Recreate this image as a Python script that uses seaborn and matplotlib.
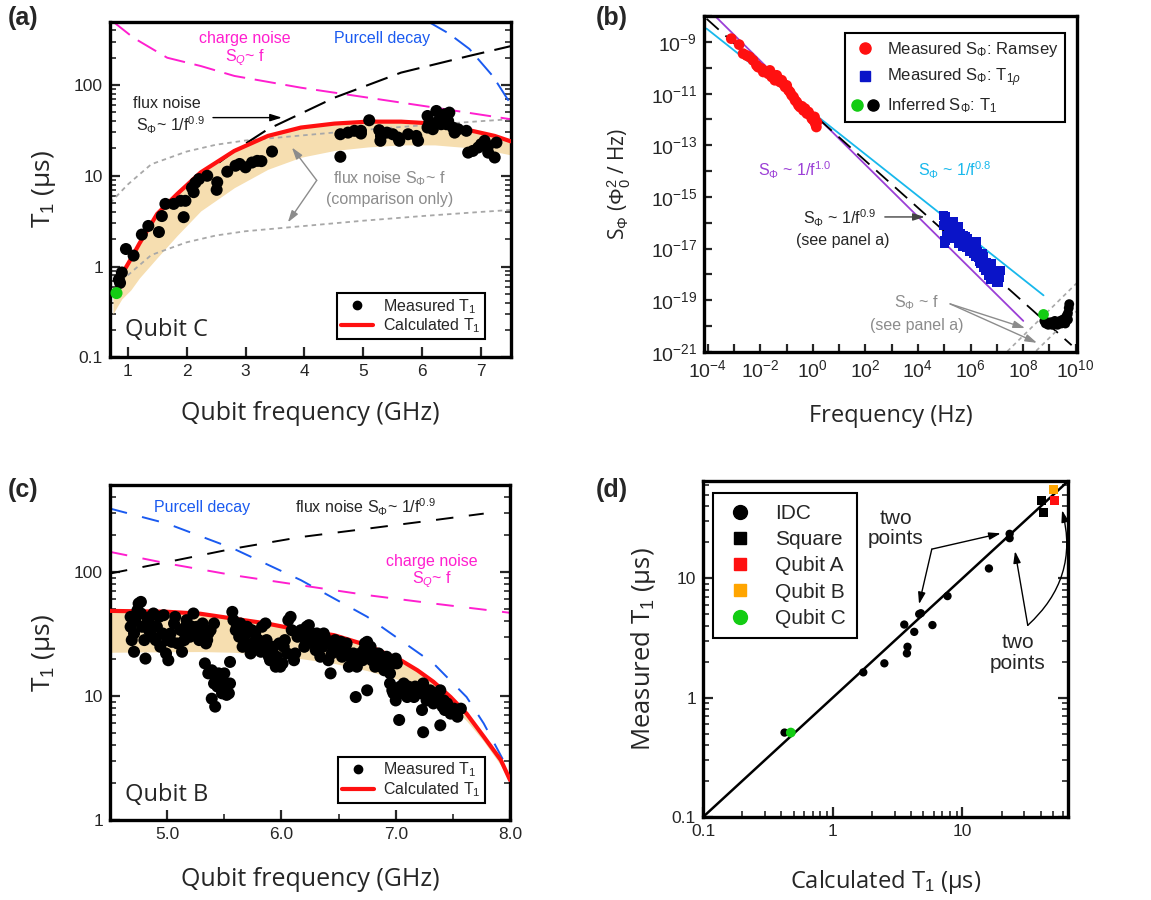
import numpy as np
import matplotlib
matplotlib.use("Agg")
import matplotlib.pyplot as plt
import seaborn as sns
from matplotlib.lines import Line2D
from matplotlib.legend_handler import HandlerTuple
from matplotlib.ticker import FixedLocator, NullFormatter, NullLocator, FuncFormatter, LogLocator

# ---------------- panel (a): qubit C ----------------
a_freq = [0.85, 0.87, 0.90, 0.97, 1.10, 1.24, 1.35, 1.53, 1.58, 1.64, 1.78, 1.90, 1.98, 1.95,
          2.09, 2.12, 2.15, 2.21, 2.35, 2.52, 2.51, 2.69, 2.83, 2.90, 3.00, 3.11, 3.20, 3.27, 3.45,
          4.61, 4.61, 4.74, 4.85, 4.96, 4.96, 5.10, 5.27, 5.30, 5.29, 5.40, 5.50, 5.59, 5.61,
          5.76, 5.90, 5.93, 6.09, 6.09, 6.12, 6.18, 6.24, 6.27, 6.32, 6.38, 6.41, 6.44, 6.46,
          6.52, 6.55, 6.61, 6.75, 6.78, 6.86, 6.95, 7.00, 7.06, 7.12, 7.12, 7.23, 7.26]
a_t1 = [0.72, 0.66, 0.86, 1.56, 1.32, 2.25, 2.8, 2.4, 3.6, 4.9, 4.9, 5.3, 5.3, 3.5,
        7.4, 6.6, 8.4, 9.2, 10.0, 8.5, 7.0, 11.1, 12.9, 13.5, 12.4, 14.0, 14.6, 14.5, 18.5,
        28.7, 16.2, 29.9, 31.3, 31.3, 29.2, 40.9, 31.8, 27.5, 24.3, 29.9, 28.7, 26.4, 24.3,
        28.7, 27.5, 24.3, 45.6, 34.0, 38.5, 32.6, 51.8, 40.2, 37.0, 47.6, 37.0, 40.2, 49.7,
        34.0, 29.9, 32.6, 31.3, 18.0, 18.8, 20.5, 22.3, 24.3, 21.4, 18.0, 15.9, 23.2]
a_green_freq = [0.81]
a_green_t1 = [0.51]

a_calc_freq = [0.82, 0.90, 1.05, 1.20, 1.50, 1.84, 2.24, 2.81, 3.38, 3.94, 4.51, 5.08,
               5.64, 6.21, 6.78, 7.23, 7.50]
a_calc_t1 = [0.62, 0.82, 1.2, 1.8, 3.8, 6.3, 10.9, 18.8, 27.5, 34.0, 37.6, 39.5,
             39.5, 37.6, 32.0, 27.5, 24.0]

a_band_freq = [0.75, 0.82, 0.90, 1.05, 1.20, 1.50, 1.84, 2.24, 2.81, 3.38, 3.94, 4.51,
               5.08, 5.64, 6.21, 6.78, 7.23, 7.50]
a_band_low = [0.30, 0.36, 0.44, 0.55, 0.75, 1.25, 2.2, 4.1, 7.4, 11.8, 16.0, 19.0,
              20.8, 21.9, 21.9, 20.4, 18.5, 17.0]
a_band_high = [0.50, 0.62, 0.82, 1.2, 1.8, 3.8, 6.3, 10.9, 18.8, 27.5, 34.0, 37.6,
               39.5, 39.5, 37.6, 32.0, 27.5, 24.0]

a_fluxf_freq = [0.70, 1.00, 1.40, 2.00, 2.50, 3.00, 4.00, 5.00, 6.00, 7.00, 7.50]
a_fluxf_hi = [5.0, 8.0, 13.4, 18.5, 22.0, 24.5, 28.0, 32.0, 36.0, 40.0, 42.0]
a_fluxf_lo = [0.50, 0.80, 1.34, 1.85, 2.2, 2.45, 2.8, 3.2, 3.6, 4.0, 4.2]

a_charge_freq = [0.75, 1.10, 1.67, 2.24, 2.81, 3.94, 5.08, 6.21, 7.50]
a_charge_t1 = [500, 331, 200, 162, 126, 93.5, 72.6, 56.4, 42.0]

a_flux09_freq = [2.55, 2.81, 3.38, 4.51, 5.64, 6.78, 7.50]
a_flux09_t1 = [14.0, 18.8, 32.6, 72.6, 137, 208, 268]

a_purcell_freq = [6.10, 6.45, 6.80, 7.20, 7.50]
a_purcell_t1 = [500, 370, 250, 125, 62]

# ---------------- panel (b): flux noise spectrum (exponents of 10) ----------------
b_ramsey_logf = [-3.11, -2.81, -2.66, -2.53, -2.41, -2.28, -2.15, -2.09, -1.96, -1.89,
                 -1.77, -1.70, -1.64, -1.57, -1.51, -1.45, -1.38, -1.32, -1.25, -1.19,
                 -1.13, -1.06, -1.00, -0.93, -0.87, -0.81, -0.74, -0.68, -0.62, -0.55,
                 -0.49, -0.42, -0.36, -0.30, -0.23, -0.17, -0.10, -0.04, 0.02, 0.09,
                 0.13, 0.06, 0.15]
b_ramsey_logS = [-8.87, -9.10, -9.45, -9.52, -9.58, -9.71, -9.90, -9.97, -10.03, -10.16,
                 -10.16, -10.23, -10.10, -10.35, -10.29, -10.48, -10.29, -10.42, -10.55, -10.48,
                 -10.61, -10.74, -10.68, -10.87, -10.94, -11.06, -11.13, -11.26, -11.32, -11.45,
                 -11.52, -11.49, -11.65, -11.58, -11.77, -11.71, -11.84, -11.97, -12.03, -12.16,
                 -12.29, -11.90, -12.10]

b_t1rho_logf = [4.96, 5.03, 5.09, 5.15, 5.03, 5.22, 5.35, 5.41, 5.47, 5.54, 5.60, 5.66,
                5.73, 5.79, 5.85, 5.92, 5.98, 6.05, 6.11, 6.18, 6.24, 6.30, 6.37, 6.43,
                6.50, 6.56, 6.62, 6.69, 6.75, 6.88, 7.01, 7.07, 7.14, 4.98, 5.08, 5.00,
                5.28, 5.88, 6.18, 6.48, 6.78, 6.98, 7.08,
                5.10, 5.25, 5.30, 5.45, 5.55, 5.70, 5.80, 5.95, 6.10, 6.25, 6.35, 6.45,
                6.60, 6.70, 6.85, 6.95, 7.05, 6.80]
b_t1rho_logS = [-15.71, -15.77, -15.97, -16.29, -16.68, -16.42, -15.97, -16.29, -16.55, -16.16,
                -16.42, -16.68, -16.48, -16.74, -16.94, -16.81, -17.06, -16.87, -17.19, -17.00,
                -16.74, -17.32, -17.58, -17.45, -17.71, -17.84, -17.71, -18.03, -17.90, -18.16,
                -17.97, -18.29, -17.84, -16.10, -16.50, -16.80, -16.10, -16.60, -17.30, -17.30,
                -18.20, -18.30, -18.10,
                -16.00, -16.10, -16.60, -16.40, -16.80, -16.90, -16.55, -17.10, -16.95, -17.10,
                -17.50, -17.20, -17.55, -17.95, -18.10, -17.85, -18.10, -17.60]

b_t1_logf = [8.81, 8.86, 8.91, 8.96, 9.01, 9.06, 9.11, 9.16, 9.21, 9.26, 9.31, 9.36,
             9.41, 9.46, 9.51, 9.56, 9.61, 9.66, 9.71, 9.74, 9.76, 9.71, 9.61]
b_t1_logS = [-19.80, -19.90, -19.85, -19.95, -19.90, -19.85, -19.95, -19.90, -19.80, -19.90,
             -19.95, -19.85, -19.80, -19.90, -19.75, -19.80, -19.70, -19.60, -19.50, -19.30,
             -19.15, -19.75, -19.90]
b_green_logf = [8.78]
b_green_logS = [-19.55]

b_fit10_logf = [-3.73, 8.01]
b_fit10_logS = [-7.99, -19.80]
b_fit08_logf = [-4.05, 8.78]
b_fit08_logS = [-8.48, -18.81]
b_fit09_logf = [-4.05, 9.85]
b_fit09_logS = [-8.10, -20.74]
b_fitf1_logf = [7.40, 10.20]
b_fitf1_logS = [-20.98, -18.18]
b_fitf2_logf = [8.50, 10.20]
b_fitf2_logS = [-20.96, -19.26]

# ---------------- panel (c): qubit B ----------------
c_freq = [4.68, 4.68, 4.69, 4.71, 4.72, 4.74, 4.75, 4.77, 4.77, 4.78, 4.80, 4.71, 4.81, 4.83,
          4.84, 4.85, 4.87, 4.88, 4.88, 4.90, 4.91, 4.93, 4.94, 4.96, 4.97, 4.99, 5.00, 5.01,
          5.03, 5.04, 5.06, 5.07, 5.09, 5.12, 5.13, 5.15, 5.16, 5.17, 5.19, 5.20, 5.22, 5.23,
          5.25, 5.26, 5.28, 5.29, 5.31, 5.32, 5.34, 5.35, 5.36, 5.38, 5.41,
          5.33, 5.36, 5.39, 5.41, 5.42, 5.44, 5.45, 5.47, 5.48, 5.50, 5.51, 5.52, 5.54, 5.55,
          5.55, 5.39, 5.42, 5.52,
          5.57, 5.58, 5.60, 5.61, 5.63, 5.64, 5.66, 5.67, 5.69, 5.70, 5.71, 5.73, 5.74, 5.76,
          5.77, 5.79, 5.80, 5.82, 5.83, 5.85, 5.86, 5.87, 5.89, 5.90, 5.92, 5.93, 5.95, 5.96,
          5.98, 5.99, 6.01, 6.02, 6.03, 6.05, 6.06, 6.08, 6.09, 6.11, 6.12, 6.14, 6.15, 6.17,
          6.18, 6.20, 6.21, 6.22, 6.24, 6.25,
          6.27, 6.28, 6.30, 6.31, 6.33, 6.34, 6.36, 6.37, 6.38, 6.40, 6.41, 6.43, 6.44, 6.46,
          6.47, 6.49, 6.50, 6.52, 6.53, 6.55, 6.56, 6.57, 6.59, 6.60, 6.62, 6.63, 6.65, 6.66,
          6.68, 6.69, 6.71, 6.72, 6.73, 6.75, 6.76, 6.78, 6.79, 6.81, 6.82, 6.84,
          6.65, 6.75, 7.03, 7.23, 7.24, 7.39,
          6.85, 6.87, 6.88, 6.90, 6.91, 6.92, 6.94, 6.95, 6.97, 6.98, 7.00, 7.01, 6.95, 6.97,
          6.98, 7.00, 7.01, 7.04, 7.06, 7.07, 7.08, 7.10, 7.11, 7.13, 7.14, 7.16, 7.17, 7.19,
          7.22, 7.24, 7.26, 7.27, 7.29, 7.30, 7.32, 7.33, 7.35, 7.36, 7.39, 7.41, 7.42, 7.43,
          7.45, 7.46, 7.48, 7.51, 7.54, 7.55, 7.57]
c_t1 = [43.4, 36.1, 28.2, 31.9, 40.8, 49.1, 55.6, 57.3, 46.2, 36.1, 28.2, 22.7, 20.0, 40.8,
        33.9, 43.4, 30.0, 36.1, 46.2, 28.2, 36.1, 43.4, 24.9, 31.9, 44.8, 22.0, 28.2, 19.4,
        31.9, 27.3, 38.4, 43.4, 26.5, 33.9, 22.7, 28.2, 36.1, 40.8, 31.9, 30.0, 36.1, 46.2,
        31.9, 36.1, 28.2, 31.9, 38.4, 30.0, 26.5, 28.2, 31.9, 33.9, 38.4,
        18.3, 15.2, 16.1, 12.6, 14.3, 11.9, 15.2, 13.4, 10.5, 15.2, 11.9, 12.6, 10.5, 12.6,
        18.8, 9.5, 8.2, 10.2,
        47.6, 40.8, 33.9, 36.1, 30.0, 38.4, 24.9, 28.2, 31.9, 36.1, 24.9, 22.0, 33.9, 27.3,
        31.9, 24.9, 28.2, 22.7, 36.1, 24.9, 38.4, 28.2, 20.7, 19.4, 23.4, 24.9, 17.2, 20.7,
        26.5, 17.2, 18.3, 24.9, 28.2, 22.0, 40.8, 43.4, 33.9, 19.4, 22.0, 30.0, 31.9, 33.9,
        30.0, 24.9, 28.2, 36.1, 37.2, 30.0,
        31.9, 26.5, 23.4, 31.9, 28.2, 20.7, 24.9, 31.9, 30.0, 26.5, 19.4, 15.2, 22.0, 24.9,
        28.2, 23.4, 26.5, 27.3, 20.7, 22.0, 24.9, 26.5, 17.2, 20.7, 18.3, 22.0, 19.4, 17.2,
        20.7, 22.0, 19.4, 23.4, 26.5, 27.3, 22.0, 24.9, 19.4, 20.7, 17.2, 19.4,
        9.8, 11.1, 6.4, 7.7, 5.1, 5.8,
        22.0, 17.2, 19.4, 16.1, 18.3, 20.7, 17.2, 15.2, 18.3, 19.4, 20.0, 18.3, 12.6, 11.1,
        10.5, 9.2, 11.1, 11.9, 10.5, 12.6, 11.1, 9.8, 11.9, 10.5, 11.1, 9.8, 11.9, 10.5,
        10.5, 12.6, 11.1, 9.2, 10.5, 11.1, 9.8, 8.7, 9.2, 10.5, 11.1, 8.2, 9.2, 7.7,
        8.7, 8.2, 7.2, 7.9, 6.8, 7.7, 7.9]

c_calc_freq = [4.50, 5.00, 5.29, 5.58, 5.87, 6.17, 6.46, 6.75, 7.04, 7.19, 7.33, 7.48,
               7.62, 7.77, 7.92, 8.00]
c_calc_t1 = [48.5, 47.7, 46.0, 42.0, 38.4, 33.9, 30.9, 25.6, 19.5, 16.1, 13.0, 9.8,
             7.2, 4.7, 3.04, 2.1]
c_band_low = [22.5, 22.7, 22.8, 22.5, 21.5, 20.0, 18.3, 16.0, 13.4, 11.8, 10.3, 8.3,
              6.3, 4.3, 2.75, 2.0]

c_purcell_freq = [4.50, 5.00, 5.58, 6.17, 6.75, 7.33, 7.62, 7.77, 8.00]
c_purcell_t1 = [324, 245, 154, 85.8, 43.5, 18.3, 9.8, 6.0, 2.4]
c_flux09_freq = [4.50, 5.00, 5.58, 6.17, 6.75, 7.33, 7.77]
c_flux09_t1 = [97, 120, 154, 191, 223, 261, 295]
c_charge_freq = [4.50, 5.00, 5.58, 6.17, 6.75, 7.33, 8.00]
c_charge_t1 = [145, 117, 94, 78, 65, 55.6, 46.8]

# ---------------- panel (d): measured vs calculated ----------------
d_idc_calc = [0.425, 1.72, 2.5, 3.56, 3.77, 3.73, 4.25, 4.64, 4.78, 5.87, 7.67, 16.0, 23.1, 23.1]
d_idc_meas = [0.51, 1.63, 1.94, 4.1, 2.67, 2.35, 3.56, 5.02, 5.1, 4.06, 7.1, 12.1, 23.6, 21.7]
d_square_calc = [40.7, 42.0]
d_square_meas = [44.9, 35.6]
d_qubitA_calc = [51.6]
d_qubitA_meas = [44.9]
d_qubitB_calc = [50.5]
d_qubitB_meas = [55.8]
d_qubitC_calc = [0.475]
d_qubitC_meas = [0.51]
d_diag = [0.1, 65]

# ---------------- styling ----------------
BAND = "#f6deb0"
MAGENTA = "#ff1fcf"
PBLUE = "#1a5af0"
GRAY = "#a8a8a8"
TGRAY = "#8c8c8c"
RED = "#ff1010"
PURPLE = "#9b3fd6"
CYAN = "#18b8ec"
GREEN = "#13cc13"
ORANGE = "#ffa500"
DKBLUE = "#0a14c8"

sns.set_style("ticks")
plt.rcParams["font.family"] = ["Liberation Sans", "DejaVu Sans"]
plt.rcParams["mathtext.fontset"] = "custom"
plt.rcParams["mathtext.rm"] = "Liberation Sans"
plt.rcParams["mathtext.it"] = "Liberation Sans:italic"
plt.rcParams["mathtext.bf"] = "Liberation Sans:bold"
LABELFONT = ["Open Sans", "DejaVu Sans"]


def line(ax, x, y, color, lw, ls="-", z=2):
    sns.lineplot(x=x, y=y, ax=ax, color=color, linewidth=lw, linestyle=ls,
                 estimator=None, sort=False, zorder=z)


def dots(ax, x, y, color, s, marker="o", z=4):
    sns.scatterplot(x=x, y=y, ax=ax, color=color, s=s, marker=marker,
                    linewidth=0, edgecolor="none", zorder=z)


def frame(ax, right=True, labelsize=12.5):
    for sp in ax.spines.values():
        sp.set_linewidth(2.4)
        sp.set_color("black")
    ax.tick_params(which="major", direction="in", length=7, width=1.6,
                   labelsize=labelsize, pad=5, right=right, top=False)
    ax.tick_params(which="minor", direction="in", length=4, width=1.2,
                   right=right, top=False)


def arrow(ax, xy, xytext, color, rad=0.0):
    ax.annotate("", xy=xy, xytext=xytext, xycoords="axes fraction",
                textcoords="axes fraction",
                arrowprops=dict(arrowstyle="-|>,head_length=0.7,head_width=0.22",
                                color=color, lw=1.0, shrinkA=0, shrinkB=0,
                                connectionstyle=f"arc3,rad={rad}"))


def box_legend(ax, handles, labels, loc, anchor, size, **kw):
    leg = ax.legend(handles, labels, loc=loc, bbox_to_anchor=anchor, fontsize=size,
                    frameon=True, fancybox=False, framealpha=1, edgecolor="black",
                    borderaxespad=0, **kw)
    leg.get_frame().set_linewidth(1.5)
    return leg


fig = plt.figure(figsize=(11.51, 9.0), dpi=100)

# ---- (a)
ax = fig.add_axes([0.0956, 0.603, 0.348, 0.373])
ax.set_yscale("log")
ax.fill_between(a_band_freq, a_band_low, a_band_high, color=BAND, lw=0, zorder=1)
line(ax, a_fluxf_freq, a_fluxf_hi, GRAY, 1.3, (0, (2.5, 2.2)))
line(ax, a_fluxf_freq, a_fluxf_lo, GRAY, 1.3, (0, (2.5, 2.2)))
line(ax, a_charge_freq, a_charge_t1, MAGENTA, 1.4, (0, (11, 5)))
line(ax, a_flux09_freq, a_flux09_t1, "black", 1.5, (0, (11, 5)))
line(ax, a_purcell_freq, a_purcell_t1, PBLUE, 1.4, (0, (11, 5)))
line(ax, a_calc_freq, a_calc_t1, RED, 3.0, "-", z=3)
dots(ax, a_freq, a_t1, "black", 75)
dots(ax, a_green_freq, a_green_t1, GREEN, 75, z=5)
ax.set_xlim(0.7, 7.5)
ax.set_ylim(0.1, 500)
ax.set_xticks([1, 2, 3, 4, 5, 6, 7])
ax.yaxis.set_major_locator(FixedLocator([0.1, 1, 10, 100]))
ax.set_yticklabels(["0.1", "1", "10", "100"])
ax.yaxis.set_minor_locator(LogLocator(base=10, subs=np.arange(2, 10)))
ax.yaxis.set_minor_formatter(NullFormatter())
frame(ax)
ax.set_xlabel("Qubit frequency (GHz)", fontsize=18, family=LABELFONT)
ax.set_ylabel("T$_1$ (μs)", fontsize=19, family=LABELFONT)
ax.xaxis.set_label_coords(0.5, -0.13)
ax.yaxis.set_label_coords(-0.13, 0.5)
ax.text(0.337, 0.949, "charge noise", color=MAGENTA, fontsize=11.5, ha="center", va="center", transform=ax.transAxes)
ax.text(0.337, 0.893, "S$_Q$~ f", color=MAGENTA, fontsize=11.5, ha="center", va="center", transform=ax.transAxes)
ax.text(0.678, 0.949, "Purcell decay", color=PBLUE, fontsize=11.5, ha="center", va="center", transform=ax.transAxes)
ax.text(0.142, 0.756, "flux noise", fontsize=11.5, ha="center", va="center", transform=ax.transAxes)
ax.text(0.15, 0.690, "S$_\\Phi$~ 1/f$^{0.9}$", fontsize=11.5, ha="center", va="center", transform=ax.transAxes)
arrow(ax, (0.429, 0.714), (0.257, 0.714), "black")
ax.text(0.698, 0.533, "flux noise S$_\\Phi$~ f", color=TGRAY, fontsize=11.5, ha="center", va="center", transform=ax.transAxes)
ax.text(0.698, 0.470, "(comparison only)", color=TGRAY, fontsize=11.5, ha="center", va="center", transform=ax.transAxes)
arrow(ax, (0.454, 0.625), (0.516, 0.527), TGRAY)
arrow(ax, (0.444, 0.402), (0.516, 0.527), TGRAY)
ax.text(0.037, 0.080, "Qubit C", fontsize=17, ha="left", va="center", family=LABELFONT, transform=ax.transAxes)
h = [Line2D([], [], marker="o", color="black", ls="none", ms=6),
     Line2D([], [], color=RED, lw=3)]
box_legend(ax, h, ["Measured T$_1$", "Calculated T$_1$"], "lower right", (0.935, 0.054), 11.5,
           handlelength=2.0, handletextpad=0.6, labelspacing=0.05, borderpad=0.25)

# ---- (b)
ax = fig.add_axes([0.6116, 0.609, 0.324, 0.373])
ax.set_xscale("log")
ax.set_yscale("log")
line(ax, 10.0 ** np.array(b_fit10_logf), 10.0 ** np.array(b_fit10_logS), PURPLE, 1.3)
line(ax, 10.0 ** np.array(b_fit08_logf), 10.0 ** np.array(b_fit08_logS), CYAN, 1.3)
line(ax, 10.0 ** np.array(b_fit09_logf), 10.0 ** np.array(b_fit09_logS), "black", 1.3, (0, (9, 5)))
line(ax, 10.0 ** np.array(b_fitf1_logf), 10.0 ** np.array(b_fitf1_logS), GRAY, 1.2, (0, (2.5, 2.2)))
line(ax, 10.0 ** np.array(b_fitf2_logf), 10.0 ** np.array(b_fitf2_logS), GRAY, 1.2, (0, (2.5, 2.2)))
dots(ax, 10.0 ** np.array(b_ramsey_logf), 10.0 ** np.array(b_ramsey_logS), RED, 60)
dots(ax, 10.0 ** np.array(b_t1rho_logf), 10.0 ** np.array(b_t1rho_logS), DKBLUE, 45, marker="s")
dots(ax, 10.0 ** np.array(b_t1_logf), 10.0 ** np.array(b_t1_logS), "black", 50)
dots(ax, 10.0 ** np.array(b_green_logf), 10.0 ** np.array(b_green_logS), GREEN, 60, z=5)
ax.set_xlim(10 ** -4.15, 10 ** 10.05)
ax.set_ylim(1e-21, 1e-8)
ax.xaxis.set_major_locator(FixedLocator(10.0 ** np.arange(-4, 11)))
ax.yaxis.set_major_locator(FixedLocator(10.0 ** np.arange(-21, -7)))
ax.xaxis.set_minor_locator(NullLocator())
ax.yaxis.set_minor_locator(NullLocator())
ax.xaxis.set_major_formatter(FuncFormatter(
    lambda v, p: f"$10^{{{int(round(np.log10(v)))}}}$" if int(round(np.log10(v))) % 2 == 0 else ""))
ax.yaxis.set_major_formatter(FuncFormatter(
    lambda v, p: f"$10^{{{int(round(np.log10(v)))}}}$" if int(round(np.log10(v))) % 2 != 0 else ""))
frame(ax, right=False, labelsize=14)
ax.tick_params(which="major", length=6)
ax.set_xlabel("Frequency (Hz)", fontsize=17, family=LABELFONT)
ax.set_ylabel("S$_\\Phi$ ($\\Phi_0^2$ / Hz)", fontsize=15, family=LABELFONT)
ax.xaxis.set_label_coords(0.5, -0.155)
ax.yaxis.set_label_coords(-0.19, 0.5)
ax.text(0.244, 0.542, "S$_\\Phi$ ~ 1/f$^{1.0}$", color=PURPLE, fontsize=11.5, ha="center", va="center", transform=ax.transAxes)
ax.text(0.673, 0.542, "S$_\\Phi$ ~ 1/f$^{0.8}$", color=CYAN, fontsize=11.5, ha="center", va="center", transform=ax.transAxes)
ax.text(0.365, 0.399, "S$_\\Phi$ ~ 1/f$^{0.9}$", fontsize=11.5, ha="center", va="center", transform=ax.transAxes)
ax.text(0.373, 0.333, "(see panel a)", fontsize=11.5, ha="center", va="center", transform=ax.transAxes)
arrow(ax, (0.592, 0.402), (0.485, 0.402), "#444444")
ax.text(0.571, 0.146, "S$_\\Phi$ ~ f", color=TGRAY, fontsize=11.5, ha="center", va="center", transform=ax.transAxes)
ax.text(0.571, 0.080, "(see panel a)", color=TGRAY, fontsize=11.5, ha="center", va="center", transform=ax.transAxes)
arrow(ax, (0.861, 0.071), (0.660, 0.143), TGRAY)
arrow(ax, (0.893, 0.027), (0.660, 0.143), TGRAY)
h = [Line2D([], [], marker="o", color=RED, ls="none", ms=8),
     Line2D([], [], marker="s", color=DKBLUE, ls="none", ms=7),
     (Line2D([], [], marker="o", color=GREEN, ls="none", ms=8),
      Line2D([], [], marker="o", color="black", ls="none", ms=8))]
box_legend(ax, h, ["Measured S$_\\Phi$: Ramsey", "Measured S$_\\Phi$: T$_{1\\rho}$",
                   "Inferred S$_\\Phi$: T$_1$"], "upper right", (0.968, 0.949), 12,
           handler_map={tuple: HandlerTuple(ndivide=None, pad=0.4)},
           handlelength=1.6, handletextpad=0.5, labelspacing=0.45, borderpad=0.4)

# ---- (c)
ax = fig.add_axes([0.0956, 0.0889, 0.3475, 0.372])
ax.set_yscale("log")
ax.fill_between(c_calc_freq, c_band_low, c_calc_t1, color=BAND, lw=0, zorder=1)
line(ax, c_purcell_freq, c_purcell_t1, PBLUE, 1.4, (0, (9, 8)))
line(ax, c_flux09_freq, c_flux09_t1, "black", 1.4, (0, (9, 8)))
line(ax, c_charge_freq, c_charge_t1, MAGENTA, 1.4, (0, (9, 8)))
line(ax, c_calc_freq, c_calc_t1, RED, 3.0, "-", z=3)
dots(ax, c_freq, c_t1, "black", 75)
ax.set_xlim(4.5, 8.0)
ax.set_ylim(1, 500)
ax.set_xticks([5.0, 6.0, 7.0, 8.0], ["5.0", "6.0", "7.0", "8.0"])
ax.xaxis.set_minor_locator(FixedLocator([4.5, 5.5, 6.5, 7.5]))
ax.yaxis.set_major_locator(FixedLocator([1, 10, 100]))
ax.set_yticklabels(["1", "10", "100"])
ax.yaxis.set_minor_locator(LogLocator(base=10, subs=np.arange(2, 10)))
ax.yaxis.set_minor_formatter(NullFormatter())
frame(ax)
ax.set_xlabel("Qubit frequency (GHz)", fontsize=18, family=LABELFONT)
ax.set_ylabel("T$_1$ (μs)", fontsize=19, family=LABELFONT)
ax.xaxis.set_label_coords(0.5, -0.14)
ax.yaxis.set_label_coords(-0.13, 0.5)
ax.text(0.23, 0.934, "Purcell decay", color=PBLUE, fontsize=11.5, ha="center", va="center", transform=ax.transAxes)
ax.text(0.6375, 0.934, "flux noise S$_\\Phi$~ 1/f$^{0.9}$", fontsize=11.5, ha="center", va="center", transform=ax.transAxes)
ax.text(0.805, 0.773, "charge noise", color=MAGENTA, fontsize=11.5, ha="center", va="center", transform=ax.transAxes)
ax.text(0.805, 0.719, "S$_Q$~ f", color=MAGENTA, fontsize=11.5, ha="center", va="center", transform=ax.transAxes)
ax.text(0.0375, 0.075, "Qubit B", fontsize=17, ha="left", va="center", family=LABELFONT, transform=ax.transAxes)
h = [Line2D([], [], marker="o", color="black", ls="none", ms=6),
     Line2D([], [], color=RED, lw=3)]
box_legend(ax, h, ["Measured T$_1$", "Calculated T$_1$"], "lower right", (0.9375, 0.051), 11.5,
           handlelength=2.0, handletextpad=0.6, labelspacing=0.05, borderpad=0.25)

# ---- (d)
ax = fig.add_axes([0.6108, 0.0922, 0.317, 0.373])
ax.set_xscale("log")
ax.set_yscale("log")
line(ax, d_diag, d_diag, "black", 1.8)
dots(ax, d_idc_calc, d_idc_meas, "black", 36)
dots(ax, d_qubitC_calc, d_qubitC_meas, GREEN, 50, z=5)
dots(ax, d_square_calc, d_square_meas, "black", 42, marker="s")
dots(ax, d_qubitA_calc, d_qubitA_meas, RED, 42, marker="s")
dots(ax, d_qubitB_calc, d_qubitB_meas, ORANGE, 42, marker="s")
ax.set_xlim(0.1, 65)
ax.set_ylim(0.1, 65)
for axis in (ax.xaxis, ax.yaxis):
    axis.set_major_locator(FixedLocator([0.1, 1, 10]))
    axis.set_minor_locator(LogLocator(base=10, subs=np.arange(2, 10)))
    axis.set_minor_formatter(NullFormatter())
ax.set_xticklabels(["0.1", "1", "10"])
ax.set_yticklabels(["0.1", "1", "10"])
frame(ax)
ax.set_xlabel("Calculated T$_1$ (μs)", fontsize=17, family=LABELFONT)
ax.set_ylabel("Measured T$_1$ (μs)", fontsize=18.5, family=LABELFONT)
ax.xaxis.set_label_coords(0.5, -0.152)
ax.yaxis.set_label_coords(-0.123, 0.5)
ax.text(0.529, 0.860, "two\npoints", fontsize=15, ha="center", va="center", linespacing=1.1, transform=ax.transAxes)
arrow(ax, (0.816, 0.845), (0.627, 0.798), "black")
arrow(ax, (0.592, 0.634), (0.627, 0.798), "black")
ax.text(0.863, 0.488, "two\npoints", fontsize=15, ha="center", va="center", linespacing=1.1, transform=ax.transAxes)
arrow(ax, (0.855, 0.792), (0.890, 0.571), "black")
arrow(ax, (0.984, 0.914), (0.890, 0.571), "black", rad=0.3)
h = [Line2D([], [], marker="o", color="black", ls="none", ms=10),
     Line2D([], [], marker="s", color="black", ls="none", ms=9),
     Line2D([], [], marker="s", color=RED, ls="none", ms=9),
     Line2D([], [], marker="s", color=ORANGE, ls="none", ms=9),
     Line2D([], [], marker="o", color=GREEN, ls="none", ms=10)]
box_legend(ax, h, ["IDC", "Square", "Qubit A", "Qubit B", "Qubit C"], "upper left", (0.027, 0.964), 15,
           handlelength=1.6, handletextpad=0.9, labelspacing=0.35, borderpad=0.5)

for x, y, lab in [(0.007, 0.98, "(a)"), (0.518, 0.98, "(b)"), (0.007, 0.455, "(c)"), (0.518, 0.455, "(d)")]:
    fig.text(x, y, lab, fontsize=18, fontweight="bold", ha="left", va="center")

fig.savefig("out.png", dpi=100, facecolor="white")
